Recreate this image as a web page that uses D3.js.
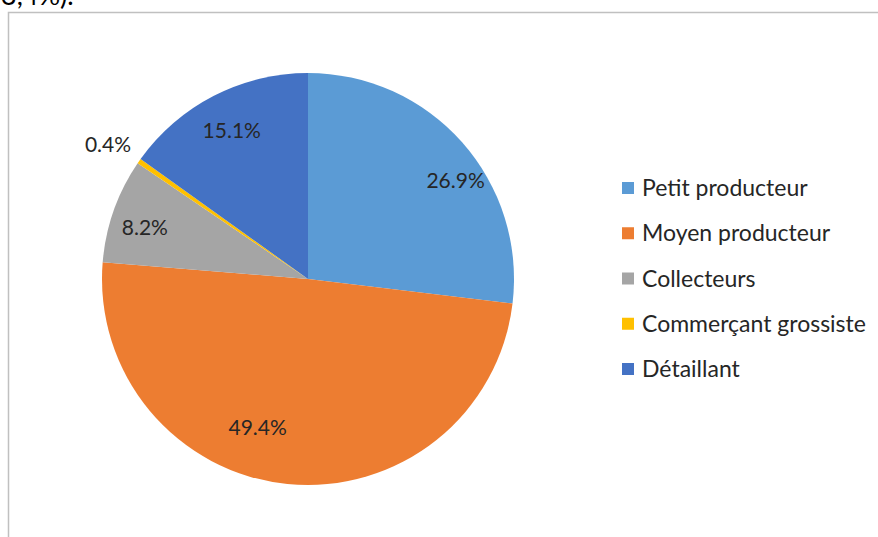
<!DOCTYPE html>
<html><head><meta charset="utf-8">
<script src="https://cdn.jsdelivr.net/npm/d3@7"></script>
<style>body{margin:0;background:#fff;}svg{display:block;font-family:Lato,"Open Sans",sans-serif;}</style>
</head><body>
<svg id="c" width="878" height="537"></svg>
<script>
const categories = ["Petit producteur","Moyen producteur","Collecteurs","Commerçant grossiste","Détaillant"];
const values = [26.9, 49.4, 8.2, 0.4, 15.1];
const labels = ["26.9%","49.4%","8.2%","0.4%","15.1%"];
const colors = ["#5B9BD5","#ED7D31","#A5A5A5","#FFC000","#4472C4"];
// label placement (best-fit style): angle shift in degrees, radius fraction
const labelLayout = [[8,0.86],[13,0.76],[-2,0.83],[-1,1.17],[0,0.81]];

const svg = d3.select("#c");
// cut-off text above the frame (partially visible in the original)
svg.append("text").attr("x",1).attr("y",5).attr("font-size",27).attr("fill","#000").text("3,4%).");
// frame
svg.append("path").attr("d","M8.5,537 V12.5 H878").attr("fill","none").attr("stroke","#c0c0c0").attr("stroke-width",1.5);

const cx=308, cy=279, R=206;
const pie = d3.pie().sort(null).value(d=>d);
const arcs = pie(values);
const arc = d3.arc().innerRadius(0).outerRadius(R);
const g = svg.append("g").attr("transform",`translate(${cx},${cy})`);
g.selectAll("path").data(arcs).join("path").attr("d",arc).attr("fill",(d,i)=>colors[i]);
g.selectAll("text").data(arcs).join("text")
  .attr("transform",(d,i)=>{
    const a=(d.startAngle+d.endAngle)/2 + labelLayout[i][0]*Math.PI/180;
    const r=R*labelLayout[i][1];
    return `translate(${r*Math.sin(a)},${-r*Math.cos(a)})`;
  })
  .attr("text-anchor","middle").attr("dy","0.35em").attr("font-size",21).attr("fill","#262626")
  .text((d,i)=>labels[i]);

const ly = d3.scalePoint().domain(categories).range([188,369]);
const lg = svg.append("g");
const items = lg.selectAll("g").data(categories).join("g").attr("transform",d=>`translate(622,${ly(d)})`);
items.append("rect").attr("x",0).attr("y",-6).attr("width",12).attr("height",12).attr("fill",(d,i)=>colors[i]);
items.append("text").attr("x",20).attr("dy","0.35em").attr("font-size",23).attr("fill","#262626").text(d=>d);
</script>
</body></html>
